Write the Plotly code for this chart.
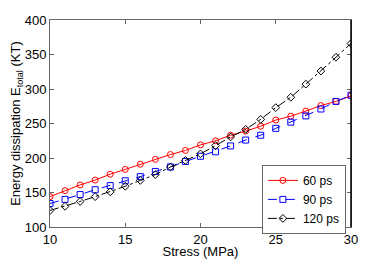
import plotly.graph_objects as go

stress = list(range(10, 31))
e_60 = [144, 152.7, 161, 168, 176.5, 183.5, 191, 198, 205, 211, 219, 225, 233, 239, 246, 255, 260.6, 268, 276, 282, 290]
e_90 = [134, 140, 147, 154, 160, 167, 173, 180.5, 187, 195, 202.5, 209, 217.5, 226, 233, 243, 252, 261, 271, 282, 291]
e_120 = [124, 130, 137, 144, 151, 159, 167.5, 176, 187, 196.5, 206, 218, 230.5, 241.5, 256, 273, 288, 307, 326, 346, 366]

series = [
    ("60 ps", e_60, "#ff0000", "solid", "circle-open"),
    ("90 ps", e_90, "#0000ff", "dash", "square-open"),
    ("120 ps", e_120, "#000000", "dashdot", "diamond-open"),
]

fig = go.Figure()
for name, vals, col, dash, sym in series:
    fig.add_trace(go.Scatter(
        x=stress, y=vals, name=name, mode="lines+markers",
        line=dict(color=col, width=1, dash=dash),
        marker=dict(symbol=sym, size=6, color=col, line=dict(width=1, color=col)),
    ))

axis_common = dict(
    showline=True, mirror="ticks", linecolor="#666666", linewidth=1,
    ticks="inside", ticklen=4, tickcolor="#666666",
    showgrid=False, zeroline=False, automargin=False,
    tickfont=dict(family="Arial, Liberation Sans, sans-serif", size=13, color="#000"),
)

# page body has an 8px default margin, so the figure is shrunk by 8px
fig.update_layout(
    width=380, height=251,
    margin=dict(l=42, r=37, t=12, b=32, autoexpand=False),
    paper_bgcolor="white", plot_bgcolor="white",
    font=dict(family="Arial, Liberation Sans, sans-serif", size=13, color="#000"),
    xaxis=dict(range=[10, 30], tickvals=[10, 15, 20, 25, 30], ticklabelstandoff=0,
               title=dict(text="Stress (MPa)", standoff=4, font=dict(size=13)), **axis_common),
    yaxis=dict(range=[100, 400], tickvals=[100, 150, 200, 250, 300, 350, 400],
               title=dict(text="Energy dissipation E<sub>total</sub> (KT)", standoff=5, font=dict(size=13)),
               **axis_common),
    legend=dict(x=0.983, y=0.300, xanchor="right", yanchor="top",
                bgcolor="white", bordercolor="#666666", borderwidth=1,
                font=dict(size=12), tracegroupgap=0, itemwidth=30),
    showlegend=True,
)
fig.add_shape(type="line", xref="paper", yref="paper", x0=1, x1=1, y0=0, y1=1,
              line=dict(color="black", width=1.5))

fig.write_html("out.html")
